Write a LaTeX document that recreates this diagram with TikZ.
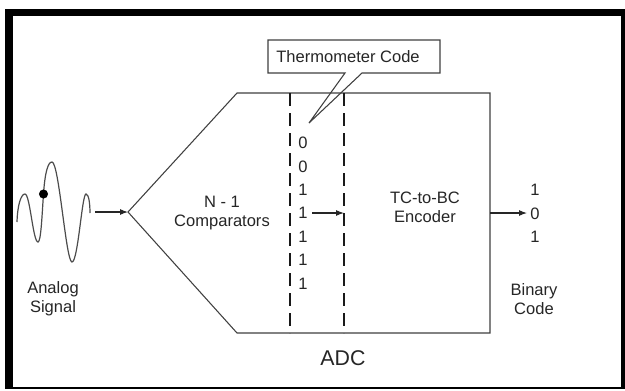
\documentclass[tikz,border=0pt]{standalone}
\usepackage{fontspec}
\setmainfont{Liberation Sans}
\usetikzlibrary{arrows.meta}

\tikzset{
  lbl/.style={font=\fontsize{12.4}{14}\selectfont, align=center, inner sep=0pt, text=black!85},
  flow/.style={-{Latex[length=6pt,width=4.5pt]}, line width=0.8pt, black!85},
  divider/.style={line width=1.4pt, black!90, dash pattern=on 10pt off 5pt},
}

\begin{document}
\begin{tikzpicture}[x=0.75pt,y=-0.75pt]
\useasboundingbox (0,0) rectangle (625,390);
\fill[black] (5,9) rectangle (625,388.5);
\fill[white] (13,16) rectangle (621,386.5);

\draw[black!75, line width=0.8pt] (128,212) -- (237,93) -- (490,93) -- (490,333) -- (237,333) -- cycle;
\coordinate (tip) at (128,212);
\coordinate (encR) at (490,213);

\draw[divider] (290,93) -- (290,333);
\draw[divider] (344,93) -- (344,333);
\coordinate (divB) at (344,213);
\coordinate (bitsR) at (312,213);

\draw[black!75, line width=0.8pt] (309,123) -- (345,73) -- (268,73) -- (268,40) -- (440,40) -- (440,73) -- (362,73) -- cycle;
\node[lbl] (tcode) at (348,57) {Thermometer Code};

\draw[black!70, line width=0.9pt] (17,222) .. controls (17.5,205) and (21,194) .. (25,194)
  .. controls (30,194) and (33,242) .. (38,242)
  .. controls (41,242) and (42,215) .. (43.5,194)
  .. controls (45,172) and (48,162) .. (52,162)
  .. controls (59,162) and (66,262) .. (72,262)
  .. controls (78,262) and (82,194) .. (86,194)
  .. controls (89,194) and (90,205) .. (90,213);
\fill[black] (43.5,194) circle (3.4pt);
\coordinate (sigR) at (95,212);

\node[lbl] (asig) at (53,299) {Analog\\Signal};
\node[lbl] (comp) at (222,213) {N - 1\\Comparators};
\node[lbl] (enc) at (425,207) {TC-to-BC\\Encoder};
\node[lbl] (bcode) at (534,299) {Binary\\Code};
\node[lbl, font=\fontsize{16}{18}\selectfont] (adc) at (343,358) {ADC};

\foreach \b [count=\i from 0] in {0,0,1,1,1,1,1}
  \node[lbl] (t\i) at (303,143+23.4*\i) {\b};
\foreach \b [count=\i from 0] in {1,0,1}
  \node[lbl] (o\i) at (535,190+23.5*\i) {\b};
\coordinate (outL) at (527,213);

\draw[flow] (sigR) -- (tip);
\draw[flow] (bitsR) -- (divB);
\draw[flow] (encR) -- (outL);
\end{tikzpicture}
\end{document}
